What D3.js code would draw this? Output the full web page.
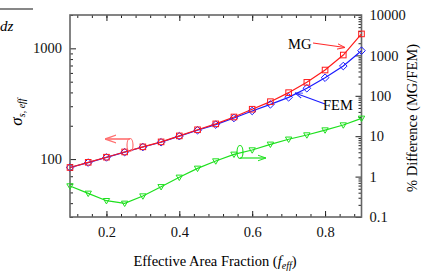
<!DOCTYPE html>
<html>
<head>
<meta charset="utf-8">
<script src="https://cdn.jsdelivr.net/npm/d3@7"></script>
<style>
  body { margin: 0; background: #fff; }
  text { font-family: "Liberation Serif", "DejaVu Serif", serif; }
</style>
</head>
<body>
<div id="chart"></div>
<script>
// Datos
const fEff = [0.1, 0.15, 0.2, 0.25, 0.3, 0.35, 0.4, 0.45, 0.5, 0.55, 0.6, 0.65, 0.7, 0.75, 0.8, 0.85, 0.9];
const mg   = [84, 93.5, 104, 116, 129, 143, 162, 184, 208, 240, 282, 330, 398, 493, 637, 870, 1350];
const fem  = [84, 93, 103.5, 115.5, 128.5, 142, 161, 182, 205, 235, 272, 312, 361, 436, 543, 692, 952];
const diff = [0.585, 0.385, 0.253, 0.218, 0.33, 0.56, 0.96, 1.6, 2.43, 3.56, 4.55, 6.3, 8.4, 10.7, 14.2, 18.9, 27.7];

const xMajor = [0.2, 0.4, 0.6, 0.8];
const xMinor = d3.range(0.12, 0.9, 0.04);
const yLeftMajor = [100, 1000];
const yLeftMinor = [30, 40, 50, 60, 70, 80, 90, 200, 300, 400, 500, 600, 700, 800, 900, 2000];
const yRightMajor = [0.1, 1, 10, 100, 1000, 10000];

// Dimensiones
const W = 431, H = 273;
const margin = { top: 15, right: 69.5, bottom: 56, left: 70 };
const width = W - margin.left - margin.right;
const height = H - margin.top - margin.bottom;

const svg = d3.select("#chart").append("svg")
    .attr("width", W)
    .attr("height", H);

const g = svg.append("g")
    .attr("transform", `translate(${margin.left},${margin.top})`);

// Escalas
const x = d3.scaleLinear().domain([0.1, 0.9]).range([0, width]);
const yL = d3.scaleLog().domain([30, 2000]).range([height, 0]);
const yR = d3.scaleLog().domain([0.1, 10000]).range([height, 0]);

const yRightMinor = [];
yRightMajor.slice(0, -1).forEach(d => {
    for (let k = 2; k <= 9; k++) yRightMinor.push(d * k);
});

// Ejes
function styleAxis(sel) {
    sel.select(".domain").remove();
    sel.selectAll("line").attr("stroke", "#222").attr("stroke-width", 1);
    sel.selectAll("text").attr("font-size", 14.5).attr("fill", "#111");
}

g.append("g").attr("transform", `translate(0,${height})`)
    .call(d3.axisBottom(x).tickValues(xMinor).tickSize(-3).tickFormat("")).call(styleAxis);
g.append("g").attr("transform", `translate(0,${height})`)
    .call(d3.axisBottom(x).tickValues(xMajor).tickSize(-6).tickPadding(10).tickFormat(d3.format(".1f"))).call(styleAxis);
g.append("g")
    .call(d3.axisTop(x).tickValues(xMinor).tickSize(-3).tickFormat("")).call(styleAxis);
g.append("g")
    .call(d3.axisTop(x).tickValues(xMajor).tickSize(-6).tickFormat("")).call(styleAxis);

g.append("g")
    .call(d3.axisLeft(yL).tickValues(yLeftMinor).tickSize(-3).tickFormat("")).call(styleAxis);
g.append("g")
    .call(d3.axisLeft(yL).tickValues(yLeftMajor).tickSize(-6).tickPadding(8).tickFormat(d3.format("d"))).call(styleAxis);

g.append("g").attr("transform", `translate(${width},0)`)
    .call(d3.axisRight(yR).tickValues(yRightMinor).tickSize(-3).tickFormat("")).call(styleAxis);
g.append("g").attr("transform", `translate(${width},0)`)
    .call(d3.axisRight(yR).tickValues(yRightMajor).tickSize(-6).tickPadding(8)
        .tickFormat(d => d < 1 ? "0.1" : d3.format("d")(d))).call(styleAxis);

// Marco
g.append("rect")
    .attr("width", width).attr("height", height)
    .attr("fill", "none").attr("stroke", "#666").attr("stroke-width", 1.6);

// Series
const pts = fEff.map((f, i) => ({ f, mg: mg[i], fem: fem[i], diff: diff[i] }));

function drawLine(key, scale, color) {
    g.append("path").datum(pts)
        .attr("fill", "none").attr("stroke", color).attr("stroke-width", 1.2)
        .attr("d", d3.line().x(d => x(d.f)).y(d => scale(d[key])));
}

drawLine("diff", yR, "#1ee01e");
drawLine("fem", yL, "#1a1aff");
drawLine("mg", yL, "#ff1a1a");

// Marcadores
g.selectAll(".tri").data(pts).enter().append("path")
    .attr("transform", d => `translate(${x(d.f)},${yR(d.diff)})`)
    .attr("d", "M-3.2,-2.2L3.2,-2.2L0,3.2Z")
    .attr("fill", "none").attr("stroke", "#1ee01e").attr("stroke-width", 1);

g.selectAll(".dia").data(pts).enter().append("path")
    .attr("transform", d => `translate(${x(d.f)},${yL(d.fem)})`)
    .attr("d", "M0,-3.8L3.8,0L0,3.8L-3.8,0Z")
    .attr("fill", "none").attr("stroke", "#1a1aff").attr("stroke-width", 1);

g.selectAll(".sq").data(pts).enter().append("rect")
    .attr("x", d => x(d.f) - 2.8).attr("y", d => yL(d.mg) - 2.8)
    .attr("width", 5.6).attr("height", 5.6)
    .attr("fill", "none").attr("stroke", "#ff1a1a").attr("stroke-width", 1);

// Flechas
const defs = svg.append("defs");
function marker(id, color) {
    defs.append("marker").attr("id", id)
        .attr("viewBox", "0 -5 10 10").attr("refX", 10).attr("refY", 0)
        .attr("markerWidth", 7).attr("markerHeight", 7).attr("orient", "auto")
        .append("path").attr("d", "M0,-3.5L10,0L0,3.5").attr("fill", "none")
        .attr("stroke", color).attr("stroke-width", 1.2);
}
marker("arRed", "#ff2a2a");
marker("arBlue", "#1a1aff");
marker("arPink", "#ff7070");
marker("arGreen", "#1ee01e");

svg.append("line").attr("x1", 313).attr("y1", 43).attr("x2", 345).attr("y2", 47.5)
    .attr("stroke", "#ff2a2a").attr("stroke-width", 1.1).attr("marker-end", "url(#arRed)");
svg.append("text").attr("x", 288).attr("y", 49).attr("font-size", 14.5).text("MG");

svg.append("line").attr("x1", 325).attr("y1", 104).attr("x2", 295).attr("y2", 93)
    .attr("stroke", "#1a1aff").attr("stroke-width", 1.1).attr("marker-end", "url(#arBlue)");
svg.append("text").attr("x", 323).attr("y", 110).attr("font-size", 14.5).text("FEM");

// Indicadores de eje
svg.append("ellipse").attr("cx", 130).attr("cy", 145).attr("rx", 3).attr("ry", 6.5)
    .attr("fill", "none").attr("stroke", "#ff7070").attr("stroke-width", 1.2);
svg.append("line").attr("x1", 130).attr("y1", 139).attr("x2", 105).attr("y2", 139)
    .attr("stroke", "#ff7070").attr("stroke-width", 1.6).attr("marker-end", "url(#arPink)");

svg.append("ellipse").attr("cx", 240).attr("cy", 152).attr("rx", 3).attr("ry", 6.5)
    .attr("fill", "none").attr("stroke", "#1ee01e").attr("stroke-width", 1.2);
svg.append("line").attr("x1", 240).attr("y1", 158).attr("x2", 266).attr("y2", 158)
    .attr("stroke", "#1ee01e").attr("stroke-width", 1.2).attr("marker-end", "url(#arGreen)");

// Títulos de ejes
const xt = svg.append("text").attr("x", 215).attr("y", 266).attr("text-anchor", "middle").attr("font-size", 14.5);
xt.append("tspan").text("Effective Area Fraction (");
xt.append("tspan").attr("font-style", "italic").text("f");
xt.append("tspan").attr("font-style", "italic").attr("font-size", 10).attr("dy", 3).text("eff");
xt.append("tspan").attr("dy", -3).text(")");

const yt = svg.append("text").attr("transform", "translate(22,112) rotate(-90)")
    .attr("text-anchor", "middle").attr("font-size", 17);
yt.append("tspan").attr("font-style", "italic").text("σ");
yt.append("tspan").attr("font-style", "italic").attr("font-size", 10).attr("dy", 3).text("s, eff");

svg.append("text").attr("transform", "translate(417,118) rotate(-90)")
    .attr("text-anchor", "middle").attr("font-size", 14.5).text("% Difference (MG/FEM)");

// Fragmento arriba a la izquierda
svg.append("line").attr("x1", 0).attr("y1", 9).attr("x2", 33).attr("y2", 9)
    .attr("stroke", "#111").attr("stroke-width", 1.2);
svg.append("text").attr("x", 0).attr("y", 31).attr("font-size", 15).attr("font-style", "italic").text("dz");
</script>
</body>
</html>
